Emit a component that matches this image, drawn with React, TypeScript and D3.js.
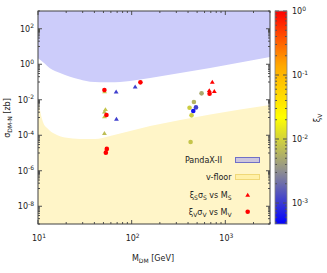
import React from 'react';
import * as d3 from 'd3';

const W = 327, H = 273;
const xDomain = [10, 3000];
const yDomain = [1e-9, 1e3];
const xiDomain = [4.7e-4, 1];

// PandaX-II exclusion boundary (mass GeV, log10 sigma zb)
const pandaxMass = [10, 11.6, 13.4, 17.2, 22.0, 28.1, 36.0, 58.8, 96.3, 157.5, 3000];
const pandaxLogSigma = [0.335, 0.07, -0.23, -0.49, -0.70, -0.86, -0.98, -1.02, -0.94, -0.77, 0.41];

// neutrino floor boundary
const floorMass = [10, 10.5, 11.3, 12.5, 15.2, 19.4, 28.1, 40.7, 58.8, 96.3, 157.5, 330, 690, 1440, 3000];
const floorLogSigma = [-1.83, -2.58, -3.25, -3.59, -3.93, -4.13, -4.21, -4.21, -4.04, -3.76, -3.48, -3.14, -2.83, -2.55, -2.30];

// scalar points (triangles)
const scalarMass = [68.3, 109, 52.5, 51.2, 51.2, 68.8, 51.2, 51.4, 726, 674, 763];
const scalarLogSigma = [-1.55, -1.26, -2.54, -2.67, -2.95, -3.08, -3.89, -1.54, -1.0, -1.47, -1.52];
const scalarXi = [0.0011, 0.0011, 0.008, 0.007, 0.008, 0.0011, 0.007, 0.008, 1, 1, 1];

// vector points (circles)
const vectorMass = [51.2, 124, 53.8, 54.3, 53.0, 679, 558, 462, 415, 486, 455, 436, 426];
const vectorLogSigma = [-1.45, -1.02, -2.86, -4.77, -4.98, -1.66, -1.64, -2.13, -2.45, -2.43, -2.63, -2.88, -4.38];
const vectorXi = [1, 1, 1, 1, 1, 1, 0.005, 0.006, 0.009, 0.0011, 0.0006, 0.009, 0.008];

const xMajor = [10, 100, 1000];
const yMajorExp = [-8, -6, -4, -2, 0, 2];
const cbMajorExp = [0, -1, -2, -3];

const paletteStops = ['#0000ff', '#909090', '#ffff00', '#ffa500', '#ff0000'];

const L = 38, R = 270, T = 11, B = 224;
const CBL = 275, CBR = 287;

const FONT = 'DejaVu Sans';

export default function App() {
  const x = d3.scaleLog().domain(xDomain).range([L, R]);
  const y = d3.scaleLog().domain(yDomain).range([B, T]);
  const xiNorm = d3.scaleLog().domain(xiDomain).range([0, 1]);
  const pal = d3.scaleLinear<string>().domain([0, 0.25, 0.5, 0.75, 1]).range(paletteStops).interpolate(d3.interpolateRgb);
  const color = (v: number) => pal(Math.max(0, Math.min(1, xiNorm(v))));
  const cbY = d3.scaleLog().domain(xiDomain).range([B, T]);

  const line = d3.line<[number, number]>().x(d => d[0]).y(d => d[1]).curve(d3.curveMonotoneX);
  const pandaxPts: [number, number][] = pandaxMass.map((m, i) => [x(m), y(Math.pow(10, pandaxLogSigma[i]))]);
  const pandaxPath = line(pandaxPts) + `L${R},${T}L${L},${T}Z`;
  const floorPts: [number, number][] = floorMass.map((m, i) => [x(m), y(Math.pow(10, floorLogSigma[i]))]);
  const floorPath = line(floorPts) + `L${R},${B}L${L},${B}Z`;

  // ticks
  const xMinor: number[] = [];
  for (let e = 1; e <= 3; e++) for (let k = 2; k <= 9; k++) { const v = k * Math.pow(10, e); if (v <= xDomain[1]) xMinor.push(v); }
  const yMinor: number[] = [];
  for (let e = -9; e <= 3; e += 2) for (let k = 1; k <= 9; k++) { const v = k * Math.pow(10, e); if (v >= yDomain[0] && v <= yDomain[1]) yMinor.push(v); }
  const cbMinor: number[] = [];
  for (let e = -4; e <= -1; e++) for (let k = 2; k <= 9; k++) { const v = k * Math.pow(10, e); if (v >= xiDomain[0] && v <= 1) cbMinor.push(v); }

  const tickC = '#505050';
  const gradStops = d3.range(0, 1.0001, 0.02);

  const tri = (cx: number, cy: number, s: number) => `M${cx},${cy - s}L${cx + s * 1.1},${cy + s * 0.8}L${cx - s * 1.1},${cy + s * 0.8}Z`;

  const sup = (base: string, exp: string) => (
    <>{base}<tspan dy={-3.5} fontSize={6}>{exp}</tspan></>
  );

  return (
    <svg width={W} height={H} style={{ position: 'absolute', left: 0, top: 0, background: '#fff' }} fontFamily={FONT}>
      <defs>
        <linearGradient id="cb" x1="0" y1="1" x2="0" y2="0">
          {gradStops.map((t, i) => <stop key={i} offset={t} stopColor={pal(t)} />)}
        </linearGradient>
      </defs>
      <path d={pandaxPath} fill="#ccccfa" />
      <path d={floorPath} fill="#fff5c8" />

      {/* points */}
      {scalarMass.map((m, i) => (
        <path key={'s' + i} d={tri(x(m), y(Math.pow(10, scalarLogSigma[i])), 2.2)} fill={color(scalarXi[i])} />
      ))}
      {vectorMass.map((m, i) => (
        <circle key={'v' + i} cx={x(m)} cy={y(Math.pow(10, vectorLogSigma[i]))} r={2.3} fill={color(vectorXi[i])} />
      ))}

      {/* ticks */}
      {xMajor.map(v => (
        <g key={'xM' + v}>
          <line x1={x(v)} x2={x(v)} y1={B} y2={B - 4} stroke={tickC} />
          <line x1={x(v)} x2={x(v)} y1={T} y2={T + 4} stroke={tickC} />
        </g>
      ))}
      {xMinor.map(v => (
        <g key={'xm' + v}>
          <line x1={x(v)} x2={x(v)} y1={B} y2={B - 2} stroke={tickC} />
          <line x1={x(v)} x2={x(v)} y1={T} y2={T + 2} stroke={tickC} />
        </g>
      ))}
      {yMajorExp.map(e => (
        <g key={'yM' + e}>
          <line x1={L} x2={L + 4} y1={y(Math.pow(10, e))} y2={y(Math.pow(10, e))} stroke={tickC} />
          <line x1={R} x2={R - 4} y1={y(Math.pow(10, e))} y2={y(Math.pow(10, e))} stroke={tickC} />
        </g>
      ))}
      {yMinor.map(v => (
        <g key={'ym' + v}>
          <line x1={L} x2={L + 2} y1={y(v)} y2={y(v)} stroke={tickC} />
          <line x1={R} x2={R - 2} y1={y(v)} y2={y(v)} stroke={tickC} />
        </g>
      ))}
      <rect x={L} y={T} width={R - L} height={B - T} fill="none" stroke="#404040" strokeWidth={1} />

      {/* tick labels */}
      {xMajor.map(v => (
        <text key={'xl' + v} x={x(v) + 1} y={241} fontSize={8} textAnchor="middle" fill="#222">
          {sup('10', String(Math.round(Math.log10(v))))}
        </text>
      ))}
      {yMajorExp.map(e => (
        <text key={'yl' + e} x={34} y={y(Math.pow(10, e)) + 3} fontSize={8} textAnchor="end" fill="#222">
          {sup('10', String(e))}
        </text>
      ))}

      {/* axis titles */}
      <text x={153} y={261} fontSize={8} textAnchor="middle" fill="#222">
        M<tspan dy={2} fontSize={6}>DM</tspan><tspan dy={-2}> [GeV]</tspan>
      </text>
      <text transform={`translate(10,118) rotate(-90)`} fontSize={8} textAnchor="middle" fill="#222">
        σ<tspan dy={2} fontSize={6}>DM-N</tspan><tspan dy={-2}> [zb]</tspan>
      </text>

      {/* legend */}
      <text x={222} y={163} fontSize={8} textAnchor="end" fill="#222">PandaX-II</text>
      <rect x={235.5} y={157.5} width={24} height={5} fill="#cdc6dc" stroke="#7070c8" strokeWidth={1} />
      <text x={231.5} y={179.5} fontSize={8} textAnchor="end" fill="#222">v-floor</text>
      <rect x={235.5} y={174.5} width={24} height={5} fill="#fff0a8" stroke="#f0d878" strokeWidth={1} />
      <text x={231.5} y={197.5} fontSize={8} textAnchor="end" fill="#222">
        ξ<tspan dy={2} fontSize={6}>S</tspan><tspan dy={-2}>σ</tspan><tspan dy={2} fontSize={6}>S</tspan><tspan dy={-2}> vs M</tspan><tspan dy={2} fontSize={6}>S</tspan>
      </text>
      <path d={tri(247.7, 195, 2.2)} fill="#ff0000" />
      <text x={231.5} y={214.5} fontSize={8} textAnchor="end" fill="#222">
        ξ<tspan dy={2} fontSize={6}>V</tspan><tspan dy={-2}>σ</tspan><tspan dy={2} fontSize={6}>V</tspan><tspan dy={-2}> vs M</tspan><tspan dy={2} fontSize={6}>V</tspan>
      </text>
      <circle cx={247.7} cy={211.7} r={2.3} fill="#ff0000" />

      {/* colorbar */}
      <rect x={CBL} y={T} width={CBR - CBL} height={B - T} fill="url(#cb)" />
      {cbMajorExp.map(e => (
        <g key={'cM' + e}>
          <line x1={CBL} x2={CBL + 4} y1={cbY(Math.pow(10, e))} y2={cbY(Math.pow(10, e))} stroke={tickC} />
          <line x1={CBR} x2={CBR - 4} y1={cbY(Math.pow(10, e))} y2={cbY(Math.pow(10, e))} stroke={tickC} />
        </g>
      ))}
      {cbMinor.map(v => (
        <g key={'cm' + v}>
          <line x1={CBL} x2={CBL + 2} y1={cbY(v)} y2={cbY(v)} stroke={tickC} />
          <line x1={CBR} x2={CBR - 2} y1={cbY(v)} y2={cbY(v)} stroke={tickC} />
        </g>
      ))}
      <rect x={CBL} y={T} width={CBR - CBL} height={B - T} fill="none" stroke="#808080" strokeWidth={0.8} />
      {cbMajorExp.map(e => (
        <text key={'cl' + e} x={292} y={cbY(Math.pow(10, e)) + 3} fontSize={8} fill="#222">
          {sup('10', String(e))}
        </text>
      ))}
      <text transform={`translate(320,118) rotate(-90)`} fontSize={8} textAnchor="middle" fill="#222">
        ξ<tspan dy={2} fontSize={6}>V</tspan>
      </text>
    </svg>
  );
}
